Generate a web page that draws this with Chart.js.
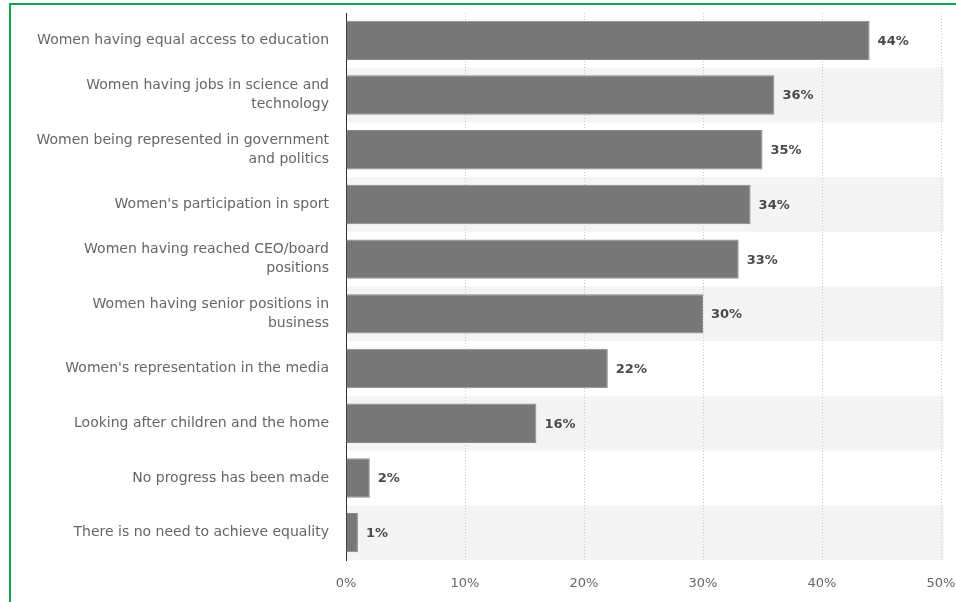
<!DOCTYPE html>
<html>
<head>
<meta charset="utf-8">
<script src="https://cdn.jsdelivr.net/npm/chart.js@4.4.1/dist/chart.umd.min.js"></script>
<style>
  html, body { margin: 0; padding: 0; background: #fff; }
  #wrap { position: relative; width: 956px; height: 602px; }
  #frame { position: absolute; left: 9px; top: 3px; right: -5px; bottom: -5px;
           border-left: 2px solid #0aa64a; border-top: 2px solid #0aa64a; }
  canvas { position: absolute; left: 0; top: 0; }
</style>
</head>
<body>
<div id="wrap">
  <div id="frame"></div>
  <canvas id="bar_chart" width="956" height="602"></canvas>
</div>
<script>
// categories, top to bottom
var labels = [
    "Women having equal access to education",
    ["Women having jobs in science and", "technology"],
    ["Women being represented in government", "and politics"],
    "Women's participation in sport",
    ["Women having reached CEO/board", "positions"],
    ["Women having senior positions in", "business"],
    "Women's representation in the media",
    "Looking after children and the home",
    "No progress has been made",
    "There is no need to achieve equality"
];
var shares = [44, 36, 35, 34, 33, 30, 22, 16, 2, 1];
var xTicks = [0, 10, 20, 30, 40, 50];

var fontName = "'DejaVu Sans', Verdana, sans-serif";

// light stripes behind every other row (drawn under the grid)
var rowBands = {
    id: "rowBands",
    beforeDraw: function(chart){
        var ctx = chart.ctx, area = chart.chartArea, y = chart.scales.y;
        var step = (area.bottom - area.top) / labels.length;
        ctx.save();
        ctx.fillStyle = "#f4f4f4";
        for (var i = 1; i < labels.length; i += 2){
            var c = y.getPixelForValue(i);
            ctx.fillRect(area.left + 1, c - step / 2, area.right - area.left + 2, step);
        }
        ctx.restore();
    }
};

// value text at the end of each bar
var barValues = {
    id: "barValues",
    afterDatasetsDraw: function(chart){
        var ctx = chart.ctx;
        var meta = chart.getDatasetMeta(0);
        ctx.save();
        ctx.font = "bold 13px " + fontName;
        ctx.fillStyle = "#4a4a4a";
        ctx.textAlign = "left";
        ctx.textBaseline = "middle";
        meta.data.forEach(function(bar, i){
            ctx.fillText(shares[i] + "%", bar.x + 8, bar.y + 1);
        });
        ctx.restore();
    }
};

var ctx = document.getElementById("bar_chart");
var chart = new Chart(ctx, {
    type: "bar",
    data: {
        labels: labels,
        datasets: [{
            data: shares,
            backgroundColor: "#777777",
            borderColor: "#8a8a8a",
            borderWidth: 1,
            borderSkipped: "left",
            categoryPercentage: 1,
            barPercentage: 0.72
        }]
    },
    options: {
        indexAxis: "y",
        responsive: false,
        animation: false,
        layout: { padding: { left: 10, right: 15, top: 13, bottom: 12 } },
        plugins: {
            legend: { display: false },
            tooltip: { enabled: false }
        },
        scales: {
            x: {
                min: 0,
                max: 50,
                afterBuildTicks: function(axis){
                    axis.ticks = xTicks.map(function(v){ return { value: v }; });
                },
                afterFit: function(axis){
                    axis.height = 30;
                    axis.paddingLeft = 0;
                    axis.paddingRight = 0;
                },
                grid: { color: "#c8c8c8", drawTicks: false },
                border: { display: false, dash: [1, 2] },
                ticks: {
                    padding: 16,
                    color: "#666",
                    font: { family: fontName, size: 13 },
                    callback: function(v){ return v + "%"; }
                }
            },
            y: {
                afterFit: function(axis){
                    axis.width = 336;
                    axis.paddingTop = 0;
                    axis.paddingBottom = 0;
                },
                grid: { display: false, drawTicks: false },
                border: { display: true, color: "#333", width: 1 },
                ticks: {
                    padding: 17,
                    color: "#666",
                    font: { family: fontName, size: 14, lineHeight: 1.36 }
                }
            }
        }
    },
    plugins: [rowBands, barValues]
});
</script>
</body>
</html>
